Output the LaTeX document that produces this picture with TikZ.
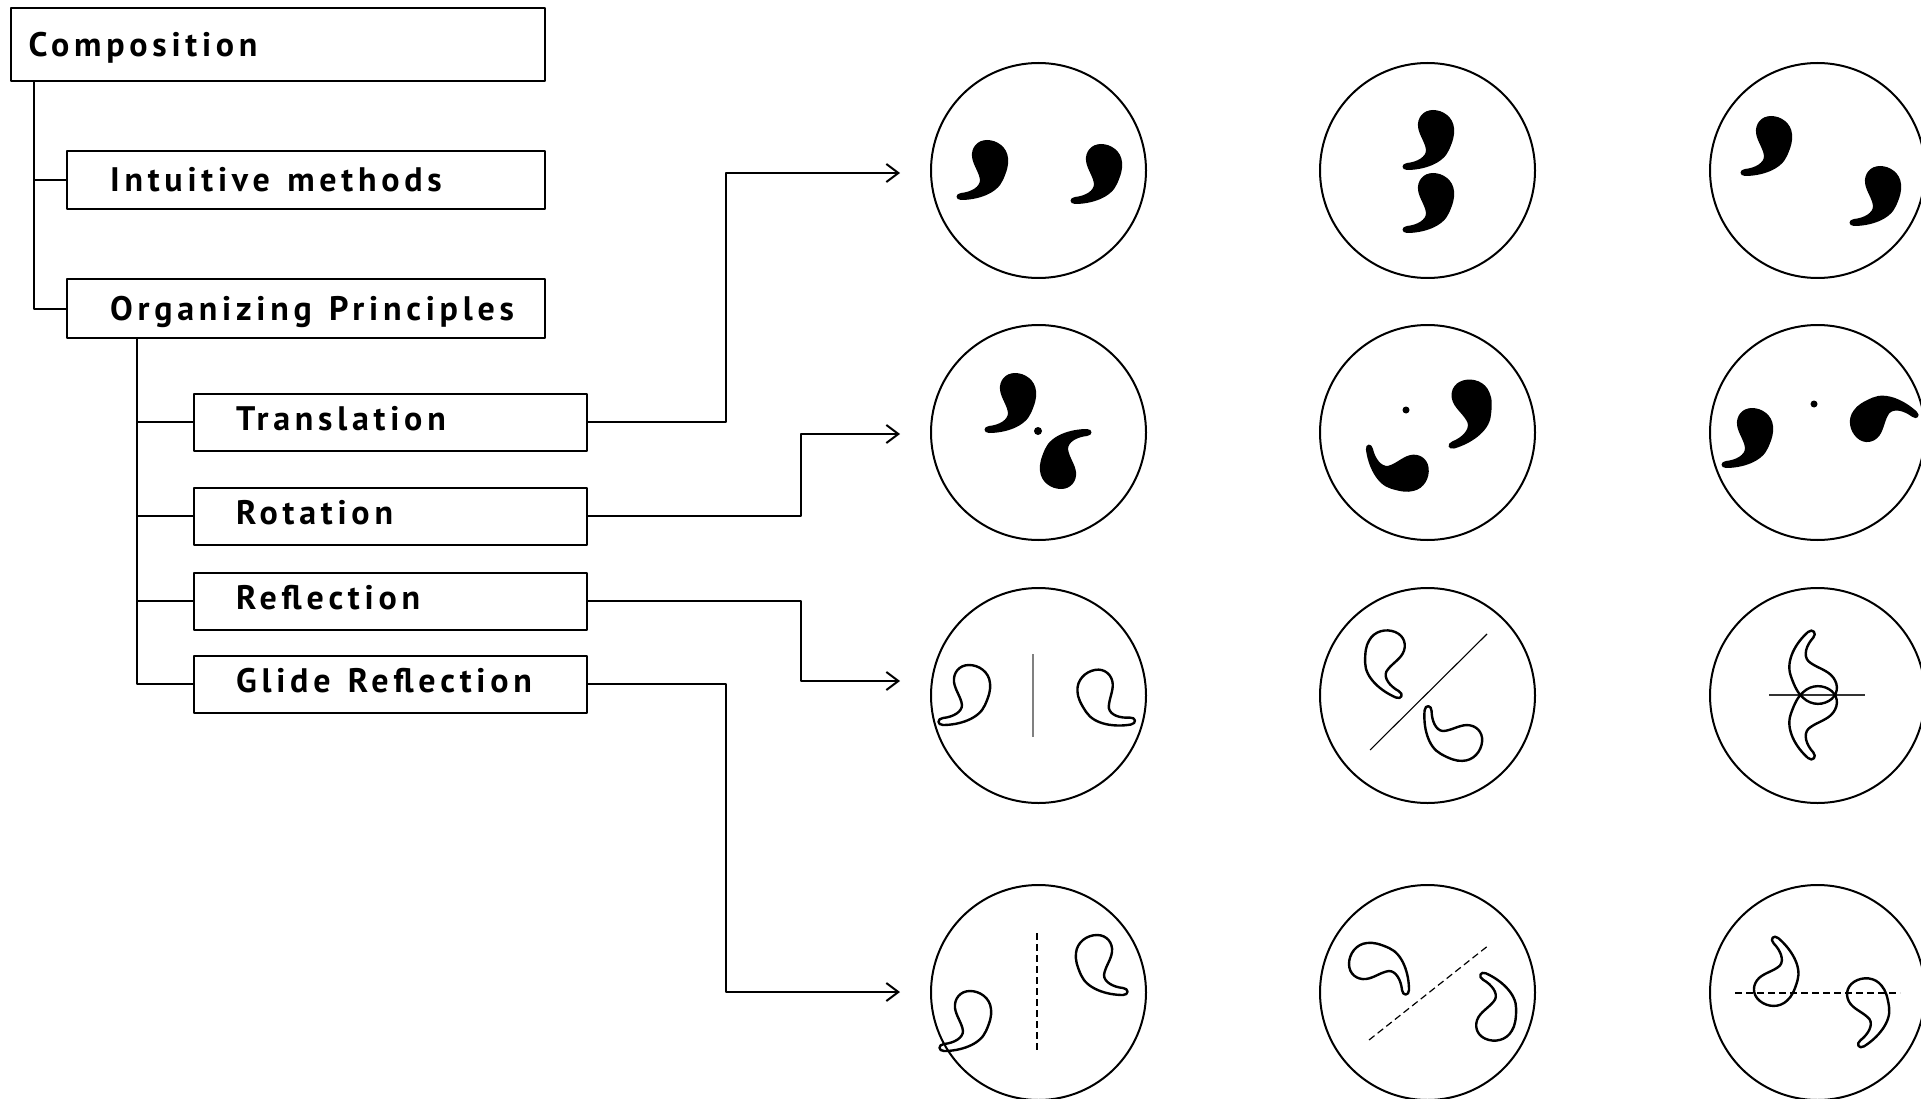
\documentclass[tikz,border=0pt]{standalone}
\usepackage{fontspec}
\newfontfamily\lblfont[LetterSpace=14]{PT Sans}
\usetikzlibrary{arrows.meta}
\tikzset{
  box/.style={draw, line width=2.2pt, anchor=north west, align=left,
    font=\lblfont\bfseries\fontsize{34}{40}\selectfont, inner ysep=0pt,
    text height=23.5pt, text depth=0pt},
  subbox/.style={box, text width=308.5pt, inner xsep=42pt, minimum height=56.5pt, text depth=7pt},
  circ/.style={circle, draw, line width=2pt, minimum size=215pt, inner sep=0pt},
  conn/.style={line width=2pt},
  arr/.style={line width=2pt, -{Straight Barb[length=12pt,width=18pt]}},
  axisdash/.style={line width=1.2pt, dash pattern=on 7pt off 4pt},
  comma/.pic={\fill (-2,-17) .. controls (-12,-17) and (-18,-9) .. (-17,0)
    .. controls (-16,8) and (-10,15) .. (-9,23)
    .. controls (-9,30) and (-18,35) .. (-28,36)
    .. controls (-34,36.5) and (-34,43) .. (-28,43)
    .. controls (-12,43) and (8,37) .. (14,23)
    .. controls (18,14) and (20,7) .. (19,1)
    .. controls (18,-10) and (8,-17) .. (-2,-17) -- cycle;},
  ocomma/.pic={\draw[line width=2.4pt] (-2,-17) .. controls (-12,-17) and (-18,-9) .. (-17,0)
    .. controls (-16,8) and (-10,15) .. (-9,23)
    .. controls (-9,30) and (-18,35) .. (-28,36)
    .. controls (-34,36.5) and (-34,43) .. (-28,43)
    .. controls (-12,43) and (8,37) .. (14,23)
    .. controls (18,14) and (20,7) .. (19,1)
    .. controls (18,-10) and (8,-17) .. (-2,-17) -- cycle;}
}
\begin{document}
\begin{tikzpicture}[x=1pt,y=-1pt,line join=round]
\useasboundingbox (0,0) rectangle (1921,1099);
\fill[white] (0,0) rectangle (1921,1099);
\begin{scope}
\clip (0,0) rectangle (1921,1099);
% tree boxes
\node[box, text width=499pt, inner xsep=17.5pt, minimum height=73pt] (comp) at (10,7) {\mbox{Composition}};
\node[box, text width=392pt, inner xsep=43pt, minimum height=58pt] (intu) at (66,150) {\mbox{Intuitive\kern6pt\ methods}};
\node[box, text width=392pt, inner xsep=43pt, minimum height=59pt] (org) at (66,278) {\mbox{Organizing\kern6pt\ Principles}};
\node[subbox] (trans) at (193,393) {\mbox{Translation}};
\node[subbox] (rot) at (193,487) {\mbox{Rotation}};
\node[subbox] (refl) at (193,572) {\mbox{Reflection}};
\node[subbox] (glide) at (193,655) {\mbox{Glide\kern6pt\ Reflection}};
\draw[conn] ([xshift=24pt]comp.south west) |- (intu.west);
\draw[conn] ([xshift=24pt]comp.south west) |- (org.west);
\draw[conn] ([xshift=71pt]org.south west) |- (trans.west);
\draw[conn] ([xshift=71pt]org.south west) |- (rot.west);
\draw[conn] ([xshift=71pt]org.south west) |- (refl.west);
\draw[conn] ([xshift=71pt]org.south west) |- (glide.west);
% circles
\node[circ] (c11) at (1038.5,170.5) {};
\node[circ] (c12) at (1427.5,170.5) {};
\node[circ] (c13) at (1817.5,170.5) {};
\node[circ] (c21) at (1038.5,432.5) {};
\node[circ] (c22) at (1427.5,432.5) {};
\node[circ] (c23) at (1817.5,432.5) {};
\node[circ] (c31) at (1038.5,695.5) {};
\node[circ] (c32) at (1427.5,695.5) {};
\node[circ] (c33) at (1817.5,695.5) {};
\node[circ] (c41) at (1038.5,992.5) {};
\node[circ] (c42) at (1427.5,992.5) {};
\node[circ] (c43) at (1817.5,992.5) {};
% connectors
\coordinate (t11) at (900,173);
\coordinate (t21) at (900,434);
\coordinate (t31) at (900,681);
\coordinate (t41) at (900,992);
\draw[arr] (trans.east) -- ++(138.5,0) |- (t11);
\draw[arr] (rot.east) -- ++(213.5,0) |- (t21);
\draw[arr] (refl.east) -- ++(213.5,0) |- (t31);
\draw[arr] (glide.east) -- ++(138.5,0) |- (t41);
% row 1 translation
\pic at (989,157) {comma};
\pic at (1103,161) {comma};
\pic at (1435,127) {comma};
\pic at (1435,190) {comma};
\pic at (1773,133) {comma};
\pic at (1882,183) {comma};
% row 2 rotation
\pic at (1017,390) {comma};
\fill (1038,431) circle[radius=4];
\pic[rotate=180] at (1059,472) {comma};
\fill (1406,410) circle[radius=3.5];
\pic[rotate=16,scale=1.05] at (1470,397) {comma};
\pic[rotate=-83] at (1412,472) {comma};
\fill (1814,404) circle[radius=3.5];
\pic at (1754,425) {comma};
\pic[rotate=137] at (1867,424) {comma};
% row 3 reflection
\draw[gray, line width=1.2pt] (1033,654) -- (1033,737);
\pic at (971,682) {ocomma};
\pic[rotate=10,xscale=-1] at (1096,687) {ocomma};
\draw[line width=1.1pt] (1370,750) -- (1487,634);
\pic[rotate=-23,xscale=-1] at (1387,647) {ocomma};
\pic[rotate=-95] at (1465,742) {ocomma};
\draw[line width=2pt, black!80] (1769,695) -- (1865,695);
\pic[rotate=-139,yscale=1.1] at (1818,686) {ocomma};
\pic[rotate=139,yscale=-1.1] at (1818,704) {ocomma};
% row 4 glide reflection
\draw[axisdash] (1037,933) -- (1037,1052);
\pic[xscale=-1] at (1095,952) {ocomma};
\pic at (972,1008) {ocomma};
\draw[axisdash] (1369,1040) -- (1489,945);
\pic[rotate=90] at (1366,962) {ocomma};
\pic[rotate=156,xscale=-1] at (1494,1024) {ocomma};
\draw[axisdash] (1735,993) -- (1900,993);
\pic[rotate=-40,yscale=-1] at (1772,989) {ocomma};
\pic[rotate=32] at (1865,995) {ocomma};
\end{scope}
\end{tikzpicture}
\end{document}
